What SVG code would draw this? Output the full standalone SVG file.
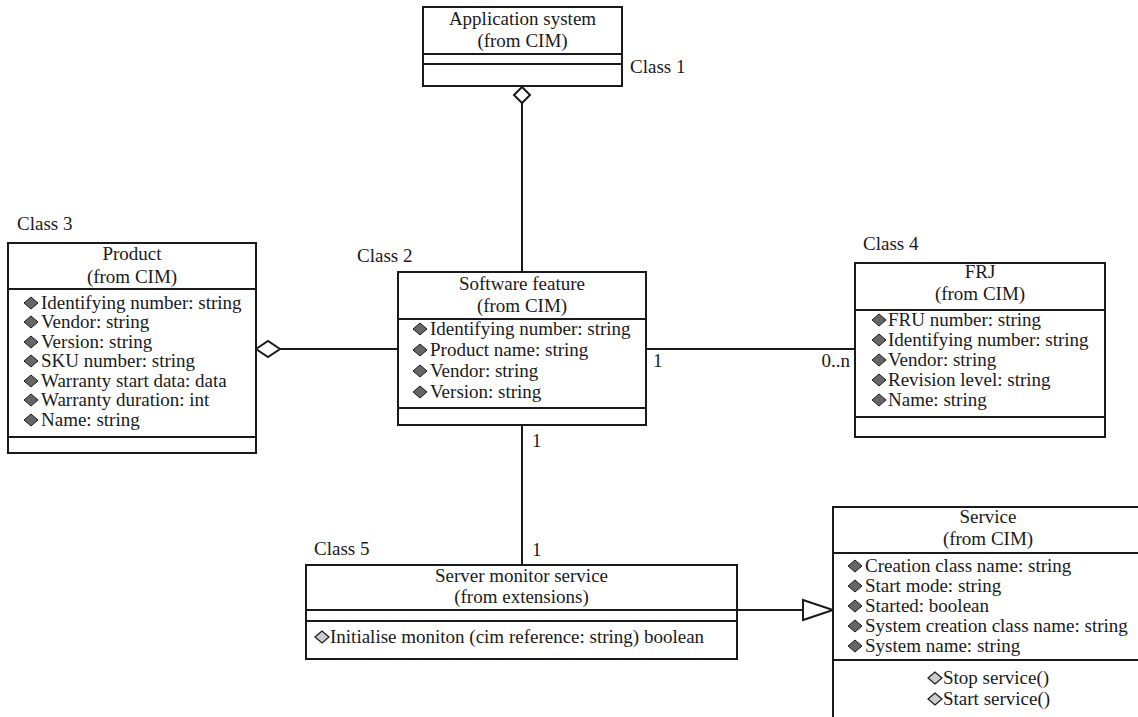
<svg xmlns="http://www.w3.org/2000/svg" width="1138" height="717" viewBox="0 0 1138 717" font-family="'Liberation Serif', 'DejaVu Serif', 'Times New Roman', serif">
<defs>
<style>
text{font-family:'Liberation Serif','DejaVu Serif','Times New Roman',serif;font-size:19px;fill:#1a1a1a}
.c{text-anchor:middle}
.box{fill:#fff;stroke:#1a1a1a;stroke-width:2}
.div{stroke:#1a1a1a;stroke-width:2;fill:none}
.ln{stroke:#1a1a1a;stroke-width:2;fill:none}
.agg{fill:#fff;stroke:#1a1a1a;stroke-width:2}
.att{fill:#666;stroke:#1a1a1a;stroke-width:1}
.op{fill:#ccc;stroke:#1a1a1a;stroke-width:1.2}
</style>
<path id="dA" d="M-7,0 L0,-6 L7,0 L0,6 Z"/>
</defs>
<rect width="1138" height="717" fill="#fff"/>

<g id="connectors">
<line class="ln" x1="522" y1="103" x2="522" y2="272"/>
<path class="agg" d="M522,87 L530,95 L522,103 L514,95 Z"/>
<line class="ln" x1="280" y1="349" x2="398" y2="349"/>
<path class="agg" d="M256,349 L268,341 L280,349 L268,357 Z"/>
<line class="ln" x1="646" y1="349" x2="855" y2="349"/>
<text x="653" y="367">1</text>
<text x="850" y="367" style="text-anchor:end">0..n</text>
<line class="ln" x1="522" y1="425" x2="522" y2="565"/>
<text x="532" y="447">1</text>
<text x="532" y="556">1</text>
<line class="ln" x1="737" y1="610" x2="803" y2="610"/>
<path class="agg" d="M803,600 L833,610 L803,620 Z"/>
</g>

<g id="class1">
<rect class="box" x="423" y="7" width="199" height="79"/>
<line class="div" x1="423" y1="54" x2="622" y2="54"/>
<line class="div" x1="423" y1="64" x2="622" y2="64"/>
<text class="c" x="522.5" y="25">Application system</text>
<text class="c" x="522.5" y="47">(from CIM)</text>
<text x="630" y="73">Class 1</text>
</g>

<g id="class3">
<text x="17" y="230">Class 3</text>
<rect class="box" x="8" y="243" width="248" height="210"/>
<line class="div" x1="8" y1="289" x2="256" y2="289"/>
<line class="div" x1="8" y1="437" x2="256" y2="437"/>
<text class="c" x="132" y="260">Product</text>
<text class="c" x="132" y="283">(from CIM)</text>
<use href="#dA" class="att" x="31" y="303"/><text x="41" y="309">Identifying number: string</text>
<use href="#dA" class="att" x="31" y="322"/><text x="41" y="328">Vendor: string</text>
<use href="#dA" class="att" x="31" y="342"/><text x="41" y="348">Version: string</text>
<use href="#dA" class="att" x="31" y="361"/><text x="41" y="367">SKU number: string</text>
<use href="#dA" class="att" x="31" y="381"/><text x="41" y="387">Warranty start data: data</text>
<use href="#dA" class="att" x="31" y="400"/><text x="41" y="406">Warranty duration: int</text>
<use href="#dA" class="att" x="31" y="420"/><text x="41" y="426">Name: string</text>
</g>

<g id="class2">
<text x="357" y="262">Class 2</text>
<rect class="box" x="398" y="272" width="248" height="153"/>
<line class="div" x1="398" y1="319" x2="646" y2="319"/>
<line class="div" x1="398" y1="408" x2="646" y2="408"/>
<text class="c" x="522" y="290">Software feature</text>
<text class="c" x="522" y="312">(from CIM)</text>
<use href="#dA" class="att" x="420" y="329"/><text x="430" y="335">Identifying number: string</text>
<use href="#dA" class="att" x="420" y="350"/><text x="430" y="356">Product name: string</text>
<use href="#dA" class="att" x="420" y="371"/><text x="430" y="377">Vendor: string</text>
<use href="#dA" class="att" x="420" y="392"/><text x="430" y="398">Version: string</text>
</g>

<g id="class4">
<text x="863" y="250">Class 4</text>
<rect class="box" x="855" y="263" width="250" height="174"/>
<line class="div" x1="855" y1="310" x2="1105" y2="310"/>
<line class="div" x1="855" y1="417" x2="1105" y2="417"/>
<text class="c" x="980" y="278">FRJ</text>
<text class="c" x="980" y="300">(from CIM)</text>
<use href="#dA" class="att" x="879" y="320"/><text x="888" y="326">FRU number: string</text>
<use href="#dA" class="att" x="879" y="340"/><text x="888" y="346">Identifying number: string</text>
<use href="#dA" class="att" x="879" y="360"/><text x="888" y="366">Vendor: string</text>
<use href="#dA" class="att" x="879" y="380"/><text x="888" y="386">Revision level: string</text>
<use href="#dA" class="att" x="879" y="400"/><text x="888" y="406">Name: string</text>
</g>

<g id="class5">
<text x="314" y="555">Class 5</text>
<rect class="box" x="306" y="565" width="431" height="94"/>
<line class="div" x1="306" y1="610" x2="737" y2="610"/>
<line class="div" x1="306" y1="621" x2="737" y2="621"/>
<text class="c" x="521.5" y="582">Server monitor service</text>
<text class="c" x="521.5" y="603">(from extensions)</text>
<use href="#dA" class="op" x="322" y="637"/><text x="330" y="643">Initialise moniton (cim reference: string) boolean</text>
</g>

<g id="service">
<rect class="box" x="833" y="507" width="310" height="230"/>
<line class="div" x1="833" y1="553" x2="1143" y2="553"/>
<line class="div" x1="833" y1="660" x2="1143" y2="660"/>
<text class="c" x="988" y="523">Service</text>
<text class="c" x="988" y="545">(from CIM)</text>
<use href="#dA" class="att" x="855" y="566"/><text x="865" y="572">Creation class name: string</text>
<use href="#dA" class="att" x="855" y="586"/><text x="865" y="592">Start mode: string</text>
<use href="#dA" class="att" x="855" y="606"/><text x="865" y="612">Started: boolean</text>
<use href="#dA" class="att" x="855" y="626"/><text x="865" y="632">System creation class name: string</text>
<use href="#dA" class="att" x="855" y="646"/><text x="865" y="652">System name: string</text>
<use href="#dA" class="op" x="935" y="678"/><text x="943" y="684">Stop service()</text>
<use href="#dA" class="op" x="935" y="699"/><text x="943" y="705">Start service()</text>
</g>
</svg>
